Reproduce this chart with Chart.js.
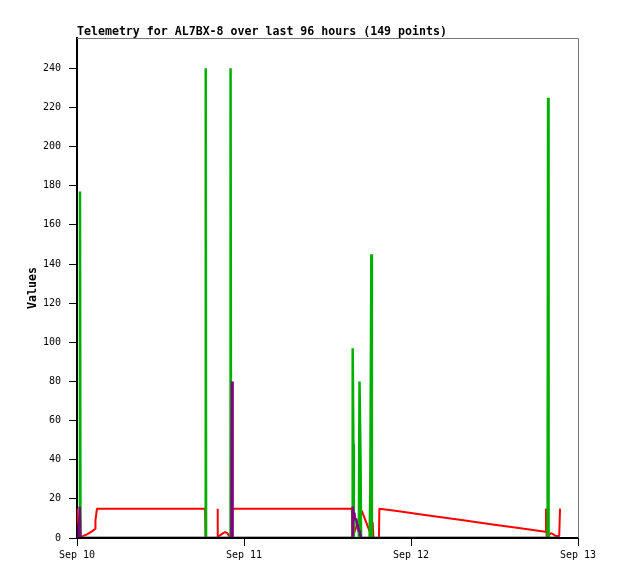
<!DOCTYPE html>
<html>
<head>
<meta charset="utf-8">
<title>Telemetry for AL7BX-8</title>
<script src="https://cdn.jsdelivr.net/npm/chart.js@4.4.1/dist/chart.umd.min.js"></script>
<style>
  html, body { margin: 0; padding: 0; background: #fff; }
  canvas { display: block; }
</style>
</head>
<body>
<canvas id="telemetryChart" width="618" height="579"></canvas>
<script>
// hours since Sep 10 00:00
const xTicks = [0, 24, 48, 72];
const xLabels = ["Sep 10", "Sep 11", "Sep 12", "Sep 13"];
const yTicks = [0, 20, 40, 60, 80, 100, 120, 140, 160, 180, 200, 220, 240];

const redHours = [0, 0.4, 0.68, 1.5, 2.2, 2.6, 2.65, 2.87, 18.4, 18.5, 20.15, 20.2, 20.25, 20.6, 21.0, 21.3, 21.6, 21.95, 22.1, 22.25,
  39.5, 39.6, 40.92, 42.1, 42.5, 42.6, 43.4, 43.45, 46, 50, 55, 60, 64, 67.3, 67.4, 67.5, 67.7, 68.1, 68.4, 68.8, 69.3, 69.42];
const redValues = [15, 0, 0.7, 2, 3.5, 4.6, 9, 15, 15, 0, 0, 15, 0.5, 1.5, 2.5, 3, 2.5, 0.5, 1, 15,
  15, 0, 14, 3, 8, 0, 0, 15, 13.8, 11.8, 9.3, 6.8, 4.8, 3.2, 15, 0.5, 1, 2.5, 2, 1, 1, 15];

const greenHours = [0, 0.36, 0.43, 0.5, 18.45, 18.5, 18.55, 22.0, 22.07, 22.14, 39.55, 39.62, 39.72, 39.78,
  40.5, 40.6, 40.75, 40.82, 42.05, 42.15, 42.3, 42.38, 67.63, 67.7, 67.77, 69.42];
const greenValues = [0, 0, 177, 0, 0, 240, 0, 0, 240, 0, 0, 97, 48, 0,
  0, 80, 40, 0, 0, 24.5, 145, 0, 0, 225, 0, 0];

const purpleHours = [0, 0.25, 0.3, 0.38, 0.5, 22.2, 22.28, 22.36, 39.55, 39.62, 39.75, 39.85, 40.0, 40.1, 40.25, 40.35, 40.5, 40.6, 40.8, 69.42];
const purpleValues = [0, 0, 8, 16, 0, 0, 80, 0, 0, 16, 12, 13, 9, 10, 6, 7, 3, 4, 0, 0];

const blackHours = [0, 69.42];
const blackValues = [0, 0];

function toPoints(hours, values) {
  return hours.map((h, i) => ({ x: h, y: values[i] }));
}

const frameAndTitle = {
  id: "frameAndTitle",
  beforeDatasetsDraw(chart) {
    const { ctx, chartArea } = chart;
    ctx.save();
    ctx.strokeStyle = "#777";
    ctx.lineWidth = 1;
    ctx.beginPath();
    ctx.moveTo(chartArea.left, chartArea.top + 0.5);
    ctx.lineTo(chartArea.right + 0.5, chartArea.top + 0.5);
    ctx.lineTo(chartArea.right + 0.5, chartArea.bottom);
    ctx.stroke();
    ctx.restore();
  },
  afterDraw(chart) {
    const { ctx, chartArea } = chart;
    ctx.save();
    ctx.fillStyle = "#000";
    ctx.font = 'bold 11.6px "DejaVu Sans Mono"';
    ctx.textBaseline = "alphabetic";
    ctx.textAlign = "left";
    ctx.fillText("Telemetry for AL7BX-8 over last 96 hours (149 points)", chartArea.left, 35);
    ctx.restore();
  }
};

const tickFont = { family: "DejaVu Sans Mono", size: 10 };

new Chart(document.getElementById("telemetryChart").getContext("2d"), {
  type: "line",
  data: {
    datasets: [
      { label: "black", data: toPoints(blackHours, blackValues), borderColor: "#000", borderWidth: 2, order: 0 },
      { label: "purple", data: toPoints(purpleHours, purpleValues), borderColor: "#800080", borderWidth: 2.5, order: 1 },
      { label: "green", data: toPoints(greenHours, greenValues), borderColor: "#00b000", borderWidth: 2.5, order: 2 },
      { label: "red", data: toPoints(redHours, redValues), borderColor: "#ff0000", borderWidth: 2, order: 3 }
    ]
  },
  options: {
    responsive: false,
    animation: false,
    events: [],
    layout: { padding: { top: 38, right: 40, left: 0, bottom: 0 } },
    elements: {
      point: { radius: 0 },
      line: { tension: 0, fill: false, borderJoinStyle: "bevel" }
    },
    plugins: {
      legend: { display: false },
      title: { display: false },
      tooltip: { enabled: false }
    },
    scales: {
      x: {
        type: "linear",
        min: 0,
        max: 72,
        afterBuildTicks: s => { s.ticks = xTicks.map(v => ({ value: v })); },
        afterFit: s => { s.height = 41; },
        ticks: {
          autoSkip: false,
          maxRotation: 0,
          padding: 3,
          color: "#000",
          font: tickFont,
          callback: v => xLabels[xTicks.indexOf(v)]
        },
        grid: { display: true, drawOnChartArea: false, drawTicks: true, tickLength: 8, tickColor: "#000", tickWidth: 1 },
        border: { display: true, color: "#000", width: 2 }
      },
      y: {
        min: 0,
        max: 255.5,
        afterBuildTicks: s => { s.ticks = yTicks.map(v => ({ value: v })); },
        afterFit: s => { s.width = 77; },
        ticks: { autoSkip: false, padding: 8, color: "#000", font: tickFont },
        grid: { display: true, drawOnChartArea: false, drawTicks: true, tickLength: 8, tickColor: "#000", tickWidth: 1 },
        border: { display: true, color: "#000", width: 2 },
        title: {
          display: true,
          text: "Values",
          color: "#000",
          font: { family: "DejaVu Sans Mono", size: 11.6, weight: "bold" },
          padding: { top: 26, bottom: 0 }
        }
      }
    }
  },
  plugins: [frameAndTitle]
});
</script>
</body>
</html>
